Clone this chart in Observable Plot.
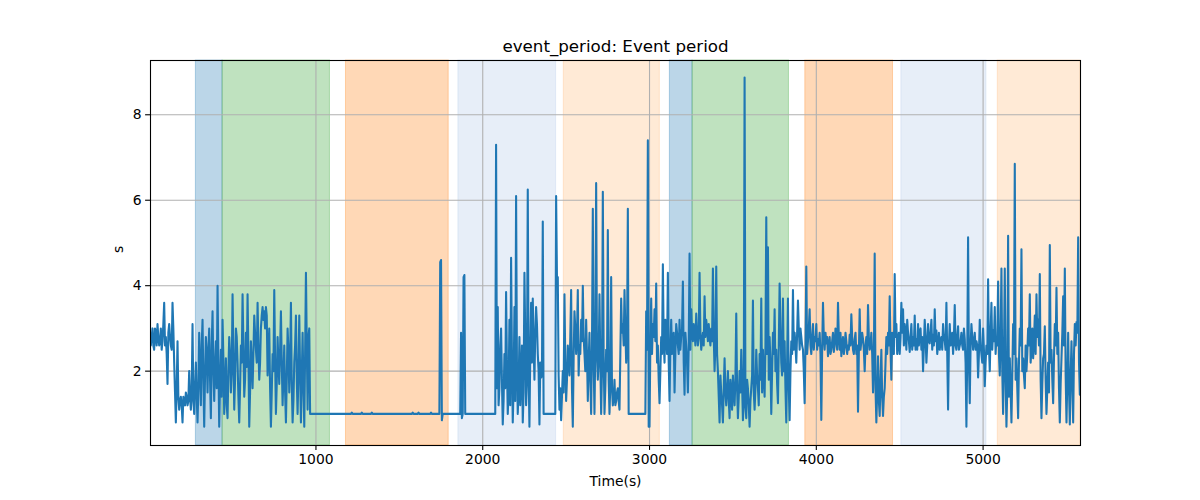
<!DOCTYPE html>
<html>
<head>
<meta charset="utf-8">
<script src="https://cdn.jsdelivr.net/npm/d3@7"></script>
<script src="https://cdn.jsdelivr.net/npm/@observablehq/plot@0.6"></script>
<style>
  html, body { margin: 0; padding: 0; background: #fff; }
  #chart { width: 1200px; height: 500px; }
</style>
</head>
<body>
<div id="chart"></div>
<script>
// sampled series: first sample time and sampling step (s)
const startTime = 5;
const stepTime = 5;
const values = [
  2.9, 2.6, 2.8, 3.0, 2.6, 2.5, 3.0, 2.9, 2.6, 3.1, 2.8, 2.6, 2.7, 3.0, 2.5, 2.7, 3.1, 3.6, 2.6, 2.8,
  2.4, 1.7, 2.9, 3.1, 2.8, 2.6, 2.5, 3.6, 3.0, 2.2, 1.5, 0.8, 1.6, 2.7, 1.4, 1.1, 1.3, 1.4, 1.2, 0.8,
  1.4, 1.3, 1.2, 1.5, 1.4, 1.2, 1.3, 2.0, 1.4, 1.1, 1.5, 3.1, 1.3, 1.0, 1.6, 2.2, 1.4, 0.8, 1.6, 2.9,
  2.0, 1.2, 2.6, 3.2, 1.8, 0.7, 1.9, 2.8, 2.4, 1.5, 2.5, 3.0, 1.8, 0.9, 2.6, 3.4, 2.0, 1.3, 2.2, 2.7,
  1.6, 4.0, 2.2, 0.7, 1.7, 2.5, 1.4, 3.2, 2.3, 1.0, 1.6, 2.3, 1.2, 0.9, 2.0, 2.8, 2.4, 1.5, 2.0, 3.8,
  2.4, 1.1, 1.8, 3.0, 2.8, 2.2, 1.4, 0.8, 1.6, 2.6, 2.2, 3.8, 2.6, 1.4, 1.8, 2.9, 2.1, 3.8, 2.4, 0.7,
  1.5, 2.7, 2.2, 1.6, 2.4, 3.3, 2.9, 2.5, 2.2, 3.6, 2.6, 1.8, 2.2, 3.0, 3.3, 3.5, 3.2, 3.4, 3.0, 3.5,
  3.3, 1.9, 2.4, 3.0, 1.6, 0.7, 1.5, 2.4, 2.0, 3.9, 2.3, 1.0, 1.7, 2.8, 2.2, 1.7, 2.5, 3.4, 2.2, 1.2,
  1.9, 2.6, 1.5, 0.8, 1.8, 3.0, 2.5, 1.5, 2.2, 3.6, 1.7, 0.8, 1.3, 2.2, 2.6, 3.3, 1.8, 1.0, 2.0, 3.3,
  2.0, 0.8, 1.9, 2.9, 1.6, 0.7, 2.4, 4.3, 2.6, 1.1, 2.8, 3.0, 1.0, 1.0, 1.0, 1.0, 1.0, 1.0, 1.0, 1.0,
  1.0, 1.0, 1.0, 1.0, 1.0, 1.0, 1.0, 1.0, 1.0, 1.0, 1.0, 1.0, 1.0, 1.0, 1.0, 1.0, 1.0, 1.0, 1.0, 1.0,
  1.0, 1.0, 1.0, 1.0, 1.0, 1.0, 1.0, 1.0, 1.0, 1.0, 1.0, 1.0, 1.0, 1.0, 1.0, 1.0, 1.0, 1.0, 1.0, 1.0,
  1.0, 1.0, 1.03, 1.0, 1.0, 1.0, 1.0, 1.0, 1.0, 1.0, 1.0, 1.0, 1.0, 1.0, 1.03, 1.0, 1.0, 1.0, 1.0, 1.0,
  1.0, 1.0, 1.0, 1.0, 1.0, 1.0, 1.03, 1.0, 1.0, 1.0, 1.0, 1.0, 1.0, 1.0, 1.0, 1.0, 1.0, 1.0, 1.0, 1.0,
  1.0, 1.0, 1.0, 1.0, 1.0, 1.0, 1.0, 1.0, 1.0, 1.0, 1.0, 1.0, 1.0, 1.0, 1.0, 1.0, 1.0, 1.0, 1.0, 1.0,
  1.0, 1.0, 1.0, 1.0, 1.0, 1.0, 1.0, 1.0, 1.0, 1.0, 1.0, 1.0, 1.0, 1.0, 1.0, 1.03, 1.0, 1.0, 1.0, 1.0,
  1.0, 1.0, 1.03, 1.0, 1.0, 1.0, 1.0, 1.0, 1.0, 1.0, 1.0, 1.0, 1.0, 1.0, 1.0, 1.0, 1.0, 1.03, 1.0, 1.0,
  1.0, 1.0, 1.0, 1.0, 1.0, 1.0, 1.0, 1.0, 4.55, 4.6, 0.85, 1.0, 1.0, 1.0, 1.0, 1.0, 1.0, 1.0, 1.0, 1.0,
  1.0, 1.0, 1.0, 1.0, 1.0, 1.0, 1.0, 1.0, 1.0, 1.0, 1.0, 1.0, 1.0, 2.9, 0.9, 1.0, 4.2, 4.25, 1.0, 1.0,
  1.0, 1.0, 1.0, 1.0, 1.0, 1.0, 1.0, 1.0, 1.0, 1.0, 1.0, 1.0, 1.0, 1.0, 1.0, 1.0, 1.0, 1.0, 1.0, 1.0,
  1.0, 1.0, 1.0, 1.0, 1.0, 1.0, 1.0, 1.0, 1.0, 1.0, 1.0, 1.0, 1.0, 1.0, 1.0, 7.3, 1.6, 3.5, 1.2, 1.6,
  2.6, 3.0, 1.8, 0.75, 1.3, 2.4, 1.6, 3.85, 2.2, 1.0, 1.5, 3.2, 1.2, 4.65, 2.4, 0.8, 1.6, 3.5, 1.3, 6.1,
  2.2, 1.0, 1.6, 2.8, 1.2, 1.9, 2.6, 0.8, 1.5, 4.3, 2.8, 1.2, 1.8, 6.25, 2.0, 0.7, 2.4, 3.6, 2.2, 3.7,
  2.6, 1.8, 2.9, 3.5, 3.1, 2.4, 2.0, 0.75, 2.2, 1.85, 1.9, 5.5, 1.0, 1.0, 1.0, 1.0, 1.0, 1.0, 1.0, 1.0,
  1.0, 1.0, 1.0, 1.0, 1.0, 1.0, 1.0, 6.1, 4.2, 4.2, 1.9, 1.1, 1.6, 0.85, 1.4, 2.0, 1.5, 3.8, 2.2, 1.3,
  1.8, 2.6, 2.2, 1.9, 2.8, 3.9, 1.6, 0.7, 2.3, 3.4, 3.0, 2.4, 2.8, 3.9, 1.9, 2.6, 2.4, 3.2, 2.7, 4.0,
  2.8, 2.4, 2.0, 3.2, 2.4, 1.3, 2.2, 2.9, 1.8, 1.0, 2.6, 5.8, 2.2, 1.0, 2.6, 6.4, 2.4, 1.8, 2.3, 3.8,
  2.2, 1.0, 2.0, 6.2, 2.4, 1.0, 1.6, 2.5, 2.0, 5.3, 1.8, 1.0, 1.7, 4.2, 1.6, 1.2, 1.4, 1.8, 1.2, 1.3,
  1.5, 1.6, 1.3, 1.1, 2.4, 3.7, 2.9, 3.1, 2.6, 3.9, 3.0, 2.2, 2.6, 5.8, 1.0, 1.0, 1.0, 1.0, 1.0, 1.0,
  1.0, 1.0, 1.0, 1.0, 1.0, 1.0, 1.0, 1.0, 1.0, 1.0, 1.0, 1.0, 1.0, 1.0, 1.0, 3.4, 2.5, 7.4, 0.7, 0.7,
  2.6, 3.7, 2.4, 3.1, 2.8, 3.45, 2.7, 4.05, 2.2, 2.6, 1.8, 1.25, 2.0, 2.8, 2.4, 4.5, 2.7, 2.2, 3.2, 2.9,
  2.4, 4.3, 2.2, 1.3, 2.6, 3.2, 2.4, 2.7, 2.9, 1.5, 2.4, 3.1, 2.9, 2.6, 2.4, 3.2, 2.5, 2.8, 3.0, 4.1,
  2.2, 1.45, 2.9, 2.6, 2.2, 1.5, 2.6, 4.75, 2.5, 3.45, 2.9, 2.7, 3.1, 2.9, 2.6, 3.35, 2.9, 2.6, 2.8, 4.3,
  2.9, 2.5, 2.7, 2.9, 2.6, 3.75, 2.8, 3.2, 3.0, 2.7, 3.1, 2.8, 2.6, 3.0, 2.7, 4.4, 2.8, 2.0, 2.6, 4.45,
  2.4, 2.0, 1.4, 0.8, 1.9, 1.5, 1.2, 0.8, 1.6, 2.3, 1.5, 1.2, 1.6, 2.0, 1.3, 0.9, 1.8, 1.5, 1.1, 1.9,
  1.5, 1.2, 1.8, 3.35, 1.6, 0.9, 1.4, 2.0, 1.5, 2.5, 1.7, 0.85, 1.3, 8.87, 1.2, 0.9, 1.8, 1.6, 1.2, 0.7,
  1.3, 1.6, 1.9, 3.65, 1.5, 1.1, 1.6, 2.5, 1.9, 1.6, 1.2, 2.4, 1.8, 3.7, 1.5, 2.5, 1.9, 1.4, 2.6, 5.6,
  2.4, 4.9, 1.8, 2.8, 2.2, 1.0, 2.0, 2.9, 2.4, 3.45, 2.0, 2.5, 1.7, 1.25, 2.6, 4.05, 3.0, 2.2, 1.9, 3.7,
  2.0, 2.7, 1.6, 0.8, 2.2, 3.7, 1.6, 0.85, 2.0, 2.7, 2.4, 3.9, 2.5, 2.9, 2.6, 2.2, 2.9, 3.65, 3.0, 2.5,
  3.0, 2.8, 2.6, 2.5, 2.0, 1.25, 2.6, 4.45, 2.4, 2.7, 3.0, 3.45, 2.6, 2.4, 2.8, 3.1, 2.5, 2.8, 2.7, 3.1,
  2.5, 2.75, 2.6, 2.9, 2.4, 0.86, 2.5, 3.6, 2.8, 2.5, 2.9, 2.65, 2.8, 2.35, 2.6, 2.8, 2.4, 2.5, 2.7, 2.9,
  2.45, 2.6, 3.0, 2.8, 2.5, 3.6, 2.8, 2.5, 2.9, 2.35, 2.6, 2.8, 2.4, 2.55, 2.9, 2.7, 2.4, 2.6, 2.5, 2.85,
  2.6, 3.33, 2.8, 2.5, 2.4, 2.75, 2.9, 2.4, 2.6, 1.05, 2.4, 3.45, 2.5, 2.7, 2.9, 2.75, 2.5, 2.0, 2.6, 2.8,
  2.4, 3.55, 2.8, 2.5, 2.6, 2.9, 2.4, 1.5, 2.2, 4.75, 1.6, 0.8, 1.5, 2.35, 1.3, 0.95, 1.8, 2.5, 1.4, 0.95,
  1.4, 1.6, 2.2, 2.8, 2.4, 2.9, 2.6, 3.75, 2.5, 1.8, 2.9, 2.6, 2.4, 4.27, 2.8, 3.1, 2.4, 2.65, 2.9, 2.4,
  2.8, 3.6, 2.9, 3.45, 2.6, 3.1, 2.9, 2.5, 3.2, 2.9, 2.7, 2.45, 2.8, 3.1, 2.5, 2.8, 2.6, 3.3, 2.5, 2.75,
  2.5, 3.1, 2.6, 2.9, 3.0, 2.5, 2.8, 2.0, 2.6, 3.2, 2.8, 2.2, 2.6, 3.1, 2.7, 2.65, 2.9, 3.2, 2.5, 2.85,
  2.6, 3.45, 2.7, 2.95, 2.4, 2.6, 2.9, 2.5, 2.7, 2.8, 2.5, 3.1, 2.8, 2.7, 2.5, 3.6, 2.4, 1.1, 2.6, 3.1,
  2.6, 2.65, 2.9, 2.4, 2.8, 3.55, 2.6, 2.5, 2.8, 3.05, 2.5, 2.6, 2.7, 2.9, 2.6, 2.5, 3.0, 2.75, 2.2, 0.7,
  2.4, 5.13, 2.2, 1.25, 2.6, 3.1, 2.8, 2.5, 2.7, 2.9, 2.5, 2.7, 2.6, 1.85, 2.4, 3.2, 2.6, 2.4, 2.2, 3.0,
  2.5, 1.65, 2.2, 2.6, 2.4, 4.15, 2.6, 2.0, 2.9, 3.6, 2.5, 2.95, 2.7, 3.5, 2.4, 2.8, 2.6, 4.1, 2.4, 1.9,
  2.8, 4.4, 2.0, 1.0, 2.4, 4.4, 1.8, 0.7, 1.6, 5.17, 1.4, 2.3, 1.6, 0.8, 1.9, 3.1, 2.4, 6.85, 1.8, 2.3,
  1.6, 0.9, 2.2, 3.0, 2.6, 4.85, 2.0, 2.3, 1.9, 1.6, 2.6, 2.0, 2.4, 3.0, 2.6, 3.8, 2.2, 2.5, 3.0, 2.3,
  2.7, 3.3, 2.4, 3.8, 2.8, 3.2, 2.6, 4.27, 1.8, 0.9, 1.7, 2.3, 2.4, 3.05, 1.8, 1.0, 1.6, 2.2, 1.5, 4.95,
  2.2, 2.5, 1.8, 1.25, 2.3, 3.1, 2.6, 3.95, 2.4, 2.9, 1.6, 0.8, 1.7, 2.3, 2.9, 3.75, 2.6, 4.4, 1.9, 0.8,
  1.8, 2.9, 1.6, 0.75, 1.9, 2.7, 1.7, 0.8, 2.4, 3.1, 2.6, 3.15, 2.9, 5.13, 2.2, 1.45
];

// shaded periods
const spanStart = [280, 440, 1180, 1854, 2486, 3122, 3258, 3934, 4510, 5088];
const spanEnd   = [440, 1084, 1796, 2440, 3062, 3258, 3836, 4460, 5020, 5584];
const spanColor = ["#1f77b4", "#2ca02c", "#ff7f0e", "#aec7e8", "#ffbb78",
                   "#1f77b4", "#2ca02c", "#ff7f0e", "#aec7e8", "#ffbb78"];

const xTicks = [1000, 2000, 3000, 4000, 5000];
const yTicks = [2, 4, 6, 8];
const xDomain = [8, 5584];
const yDomain = [0.26, 9.27];

const titleText = "event_period: Event period";
const xLabelText = "Time(s)";
const yLabelText = "s";

const series = values.map((v, i) => ({t: startTime + i * stepTime, v}));
const spans = spanStart.map((s, i) => ({x1: s, x2: spanEnd[i], c: spanColor[i]}));

const font = "DejaVu Sans, Liberation Sans, sans-serif";

const chart = Plot.plot({
  width: 1200,
  height: 500,
  marginLeft: 150,
  marginRight: 120,
  marginTop: 60,
  marginBottom: 55,
  style: {fontFamily: font, fontSize: "13.9px", color: "#000", background: "#fff"},
  x: {domain: xDomain, label: null},
  y: {domain: yDomain, label: null},
  color: {type: "identity"},
  marks: [
    Plot.rect(spans, {x1: "x1", x2: "x2", fill: "c", fillOpacity: 0.3, stroke: "c", strokeOpacity: 0.3, strokeWidth: 1}),
    Plot.gridX(xTicks, {stroke: "#b0b0b0", strokeOpacity: 1, strokeWidth: 1.1}),
    Plot.gridY(yTicks, {stroke: "#b0b0b0", strokeOpacity: 1, strokeWidth: 1.1}),
    Plot.line(series, {x: "t", y: "v", stroke: "#1f77b4", strokeWidth: 2.08, strokeLinejoin: "round", clip: true}),
    Plot.frame({stroke: "#000", strokeWidth: 1.1}),
    Plot.axisX(xTicks, {tickSize: 4.9, tickPadding: 4, fontSize: 13.9, tickFormat: d => String(d), label: null, stroke: "#000", strokeWidth: 1.1}),
    Plot.axisY(yTicks, {tickSize: 4.9, tickPadding: 4, fontSize: 13.9, tickFormat: d => String(d), label: null, stroke: "#000", strokeWidth: 1.1}),
    Plot.text([titleText], {text: d => d, frameAnchor: "top", lineAnchor: "middle", dy: -14, fontSize: 16.7, fill: "#000"}),
    Plot.text([xLabelText], {text: d => d, frameAnchor: "bottom", lineAnchor: "middle", dy: 36, fontSize: 13.9, fill: "#000"}),
    Plot.text([yLabelText], {text: d => d, frameAnchor: "left", lineAnchor: "middle", dx: -32, rotate: -90, fontSize: 13.9, fill: "#000"})
  ]
});
document.getElementById("chart").appendChild(chart);
</script>
</body>
</html>
